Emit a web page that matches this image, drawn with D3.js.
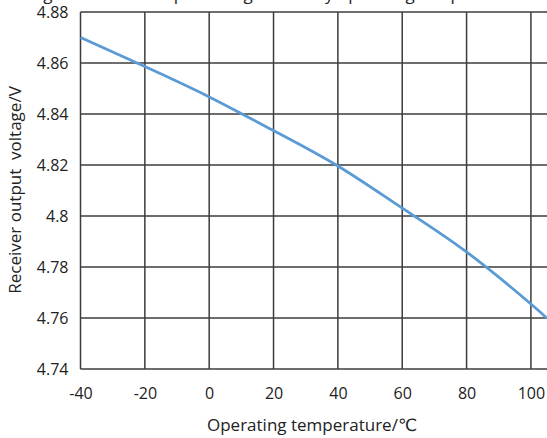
<!DOCTYPE html>
<html>
<head>
<meta charset="utf-8">
<script src="https://cdn.jsdelivr.net/npm/d3@7"></script>
<style>
  body { margin: 0; background: #fff; }
  svg text { font-family: "Open Sans", "DejaVu Sans", sans-serif; fill: #222; white-space: pre; }
</style>
</head>
<body>
<div id="chart"></div>
<script>
const width = 547;
const height = 438;

// temperature (°C) and receiver output voltage (V)
const temps = [-40, -20, 0, 20, 40, 60, 80, 100, 105];
const volts = [4.870, 4.8586, 4.8467, 4.8335, 4.8196, 4.8031, 4.7859, 4.7655, 4.7598];

const xTicks = [-40, -20, 0, 20, 40, 60, 80, 100];
const yTicks = [4.74, 4.76, 4.78, 4.8, 4.82, 4.84, 4.86, 4.88];

const titleText = "Fig. 7 Receiver output voltage curve by operating temperature";
const xLabel = "Operating temperature/\u2103";
const yLabel = "Receiver output  voltage/V";

const margin = { top: 12, right: 0, bottom: 69, left: 80.5 };

const svg = d3.select("#chart")
    .append("svg")
    .attr("width", width)
    .attr("height", height);

const x = d3.scaleLinear()
    .domain([-40, 105])
    .range([margin.left, width - margin.right]);

const y = d3.scaleLinear()
    .domain([4.74, 4.88])
    .range([height - margin.bottom, margin.top]);

// grid
const grid = svg.append("g").attr("stroke", "#3c3c3c").attr("stroke-width", 1.5);

grid.selectAll(".vline")
    .data(xTicks)
    .enter()
    .append("line")
        .attr("x1", d => x(d)).attr("x2", d => x(d))
        .attr("y1", y(4.88)).attr("y2", y(4.74));

grid.selectAll(".hline")
    .data(yTicks)
    .enter()
    .append("line")
        .attr("x1", x(-40)).attr("x2", x(105))
        .attr("y1", d => y(d)).attr("y2", d => y(d));

// axes (labels only)
const xAxis = d3.axisBottom(x)
    .tickValues(xTicks)
    .tickSize(0)
    .tickPadding(19)
    .tickFormat(d => String(d));

const yAxis = d3.axisLeft(y)
    .tickValues(yTicks)
    .tickSize(0)
    .tickPadding(12)
    .tickFormat(d => String(+d.toFixed(2)));

svg.append("g")
    .attr("transform", "translate(0," + y(4.74) + ")")
    .call(xAxis)
    .call(g => g.select(".domain").remove())
    .selectAll("text")
        .attr("font-size", 16)
        .attr("fill", "#222");

svg.append("g")
    .attr("transform", "translate(" + x(-40) + ",0)")
    .call(yAxis)
    .call(g => g.select(".domain").remove())
    .selectAll("text")
        .attr("font-size", 16)
        .attr("fill", "#222");

// curve
const line = d3.line()
    .x((d, i) => x(temps[i]))
    .y(d => y(d))
    .curve(d3.curveNatural);

svg.append("path")
    .datum(volts)
    .attr("d", line)
    .attr("fill", "none")
    .attr("stroke", "#5b9bd5")
    .attr("stroke-width", 2.8);

// labels
svg.append("text")
    .attr("x", 312)
    .attr("y", 431)
    .attr("text-anchor", "middle")
    .attr("font-size", 17)
    .text(xLabel);

svg.append("text")
    .attr("transform", "translate(21,190) rotate(-90)")
    .attr("text-anchor", "middle")
    .attr("font-size", 17)
    .text(yLabel);

svg.append("text")
    .attr("x", 275)
    .attr("y", -0.5)
    .attr("text-anchor", "middle")
    .attr("font-size", 17)
    .text(titleText);
</script>
</body>
</html>
